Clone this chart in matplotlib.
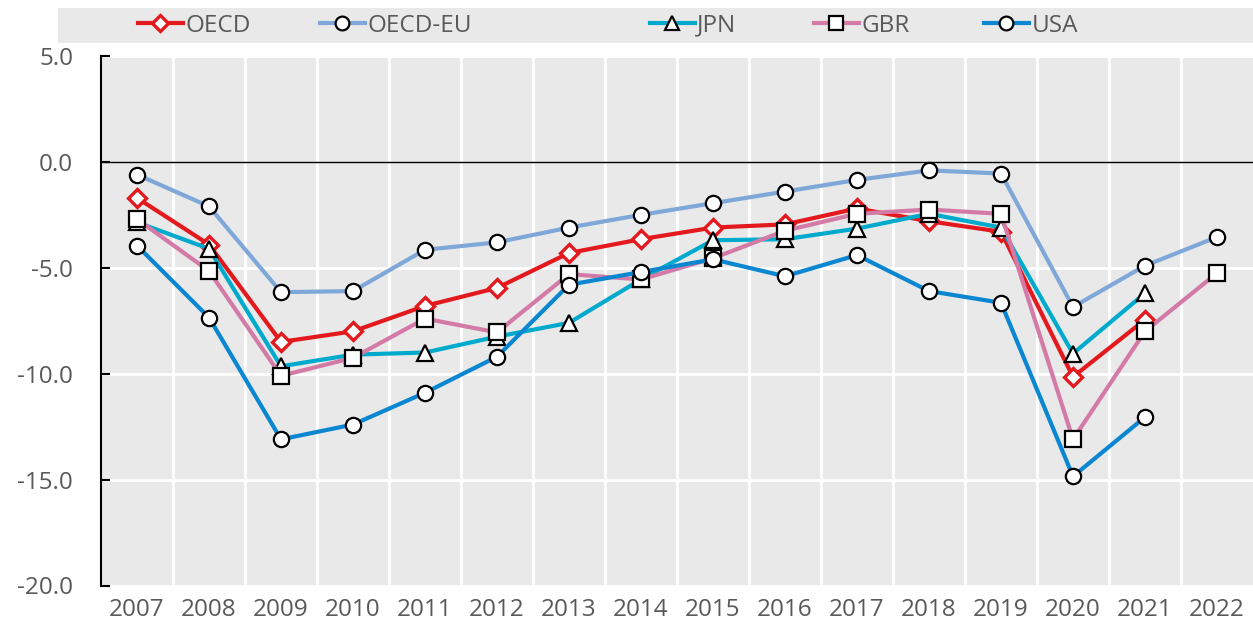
import numpy as np
import matplotlib.pyplot as plt
from matplotlib.patches import Rectangle

years = [str(y) for y in range(2007, 2023)]

oecd = [-1.7, -3.9, -8.5, -8.0, -6.8, -5.95, -4.3, -3.65, -3.1, -2.95, -2.2, -2.8, -3.3, -10.15, -7.45, np.nan]
oecd_eu = [-0.6, -2.1, -6.15, -6.1, -4.15, -3.8, -3.1, -2.5, -1.95, -1.4, -0.85, -0.4, -0.55, -6.85, -4.9, -3.55]
jpn = [-2.85, -4.1, -9.65, -9.1, -9.0, -8.25, -7.6, -5.55, -3.7, -3.65, -3.15, -2.45, -3.1, -9.05, -6.2, np.nan]
gbr = [-2.7, -5.15, -10.1, -9.25, -7.4, -8.05, -5.3, -5.55, -4.55, -3.25, -2.45, -2.25, -2.45, -13.1, -8.0, -5.25]
usa = [-3.95, -7.35, -13.1, -12.4, -10.9, -9.2, -5.8, -5.2, -4.6, -5.4, -4.4, -6.1, -6.65, -14.85, -12.05, np.nan]

yticks = [5.0, 0.0, -5.0, -10.0, -15.0, -20.0]

plt.rcParams['font.family'] = ['Open Sans', 'DejaVu Sans']
txt = '#595959'
bg = '#e9e9e9'

fig = plt.figure(figsize=(12.53, 6.25), dpi=100)
ax = fig.add_axes([101/1253, 1 - 585.5/625, 1 - 101/1253, (585.5 - 56)/625])
ax.set_facecolor(bg)

x = np.arange(len(years))

series = [
    ('OECD', oecd, '#e3191e', 'D', 9, '#e3191e'),
    ('OECD-EU', oecd_eu, '#7fa8d9', 'o', 11, 'black'),
    ('JPN', jpn, '#00aacc', '^', 11, 'black'),
    ('GBR', gbr, '#d47aa7', 's', 11, 'black'),
    ('USA', usa, '#0a87d0', 'o', 11, 'black'),
]

handles = []
for i, (name, vals, col, mk, ms, ec) in enumerate(series):
    h, = ax.plot(x, vals, color=col, lw=3, marker=mk, ms=ms, mfc='white',
                 mec=ec, mew=1.6 if ec == 'black' else 2.4, zorder=3 + i,
                 label=name)
    handles.append(h)

ax.set_xlim(-0.5, len(years) - 0.5)
ax.set_ylim(-20, 5)

# white grid between categories, black zero line
for b in np.arange(0.5, len(years) - 0.5):
    ax.axvline(b, color='white', lw=2, zorder=1)
for yv in yticks:
    if yv == 0:
        ax.axhline(0, color='black', lw=1, zorder=2)
    else:
        ax.axhline(yv, color='white', lw=2, zorder=1)

ax.set_xticks(x)
ax.set_xticklabels(years)
ax.set_yticks(yticks)
ax.set_yticklabels([f'{v:.1f}' for v in yticks])
ax.tick_params(axis='x', length=0, pad=9, labelsize=17.5, labelcolor=txt)
ax.tick_params(axis='y', direction='in', length=6.5, width=1.5, pad=20,
               labelsize=17.5, labelcolor=txt)
for s in ['top', 'right', 'bottom']:
    ax.spines[s].set_visible(False)
ax.spines['left'].set_linewidth(1.5)

# legend strip
fig.patches.append(Rectangle((58/1253, 1 - 43/625), 1 - 58/1253, 35/625,
                             transform=fig.transFigure, facecolor=bg,
                             edgecolor='none', zorder=0))
leg_x = [138, 320, 650, 814, 984]
for h, lx in zip(handles, leg_x):
    leg = fig.legend([h], [h.get_label()], loc='center left',
                     bbox_to_anchor=(lx/1253, 1 - 25.5/625), frameon=False,
                     fontsize=17.5, handlelength=1.85, handletextpad=0.1,
                     borderpad=0, borderaxespad=0, markerscale=0.9)
    for t in leg.get_texts():
        t.set_color(txt)

fig.savefig('out.png', dpi=100)
